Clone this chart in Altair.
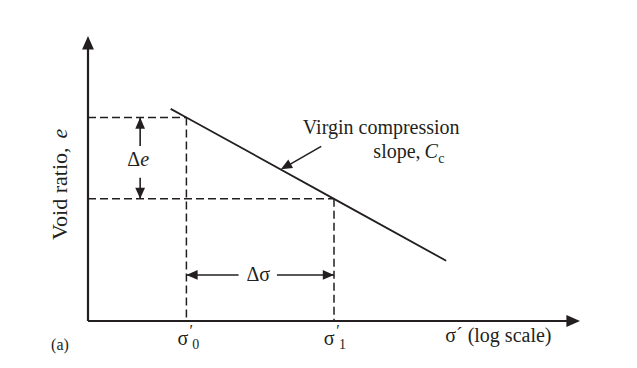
import altair as alt
import pandas as pd

# Schematic e - log(sigma') diagram.
# x: log of effective stress (arbitrary units), e: void ratio (arbitrary units)
X_MAX, E_MAX = 5.0, 7.0
SIG0, SIG1 = 1.0, 2.5          # sigma'_0, sigma'_1 on the log axis
E0, E1 = 5.0, 3.0              # void ratios at sigma'_0 and sigma'_1

# virgin compression line (end points)
line_x = [0.84, SIG0, SIG1, 3.64]
line_e = [5.21, E0, E1, 1.48]

INK = "#231f20"
FONT = "Liberation Serif"

# solid segments: axes, dimension shafts, leader
solid = pd.DataFrame({
    "x":  [0.0, 0.0, 0.53, 0.53, SIG0, 1.92, 2.37],
    "x2": [X_MAX - 0.05, 0.0, 0.53, 0.53, 1.53, SIG1, 1.99],
    "e":  [0.0, 0.0, E0, 3.52, 1.13, 1.13, 4.29],
    "e2": [0.0, E_MAX - 0.1, 4.30, E1, 1.13, 1.13, 3.76],
    "w":  [2.2, 2.2, 1.6, 1.6, 1.6, 1.6, 1.6],
})

# dashed guide lines
dashed = pd.DataFrame({
    "x":  [0.0, 0.0, SIG0, SIG1],
    "x2": [SIG0, SIG1, SIG0, SIG1],
    "e":  [E0, E1, E0, E1],
    "e2": [E0, E1, 0.0, 0.0],
})

# arrow heads: tip position and direction (0 = up, clockwise in degrees)
heads = pd.DataFrame({
    "x":   [0.0, X_MAX, 0.53, 0.53, SIG0, SIG1, 1.96],
    "e":   [E_MAX, 0.0, E0, E1, 1.13, 1.13, 3.73],
    "rot": [0, 90, 0, 180, 270, 90, 241],
    "size": [560, 560, 380, 380, 380, 380, 380],
})
ARROW = "M0,0L-0.5,1.15L0.5,1.15Z"

# upright labels
center_lbl = pd.DataFrame({
    "x": [2.98, 1.73, 0.965, 2.45],
    "e": [4.74, 1.13, -0.44, -0.44],
    "text": ["Virgin compression", "Δσ", "σ", "σ"],
})
left_lbl = pd.DataFrame({"x": [3.63], "e": [-0.37], "text": ["σ´ (log scale)"]})
right_lbl = pd.DataFrame({"x": [3.38, 0.53], "e": [4.15, 3.95], "text": ["slope,", "Δ"]})
italic = pd.DataFrame({"x": [3.42, 0.53], "e": [4.15, 3.95], "text": ["C", "e"]})
subs = pd.DataFrame({"x": [3.56, 1.06, 2.55], "e": [3.98, -0.60, -0.60],
                     "text": ["c", "0", "1"]})
primes = pd.DataFrame({"x": [1.05, 2.54], "e": [-0.25, -0.25], "text": ["′", "′"]})
tag = pd.DataFrame({"x": [-0.285], "e": [-0.59], "text": ["(a)"]})
ylab = pd.DataFrame({"x": [-0.285], "e": [1.99], "text": ["Void ratio,"]})
ylab_it = pd.DataFrame({"x": [-0.285], "e": [4.48], "text": ["e"]})

xs = alt.Scale(domain=[0, X_MAX], nice=False, zero=False)
ys = alt.Scale(domain=[0, E_MAX], nice=False, zero=False)


def X(f="x"):
    return alt.X(f"{f}:Q", scale=xs, axis=None)


def Y(f="e"):
    return alt.Y(f"{f}:Q", scale=ys, axis=None)


solid_layer = alt.Chart(solid).mark_rule(color=INK).encode(
    x=X(), x2="x2:Q", y=Y(), y2="e2:Q",
    strokeWidth=alt.StrokeWidth("w:Q", scale=None),
)
dashed_layer = alt.Chart(dashed).mark_rule(
    color=INK, strokeWidth=1.5, strokeDash=[8, 4]
).encode(x=X(), x2="x2:Q", y=Y(), y2="e2:Q")

vc_line = alt.Chart(pd.DataFrame({"x": line_x, "e": line_e})).mark_line(
    color=INK, strokeWidth=1.8
).encode(x=X(), y=Y())

head_layer = alt.Chart(heads).mark_point(
    shape=ARROW, filled=True, color=INK, opacity=1, strokeWidth=0
).encode(
    x=X(), y=Y(),
    angle=alt.Angle("rot:Q", scale=None),
    size=alt.Size("size:Q", scale=None),
)


def text_layer(df, size=20, style="normal", align="center", angle=0, baseline="middle"):
    return alt.Chart(df).mark_text(
        font=FONT, fontSize=size, fontStyle=style, color=INK,
        align=align, baseline=baseline, angle=angle,
    ).encode(x=X(), y=Y(), text="text:N")


layers = [
    dashed_layer, solid_layer, vc_line, head_layer,
    text_layer(center_lbl, align="center"),
    text_layer(left_lbl, align="left"),
    text_layer(right_lbl, align="right"),
    text_layer(italic, style="italic", align="left"),
    text_layer(subs, size=14, align="left"),
    text_layer(primes, size=16, align="center"),
    text_layer(tag, size=16),
    text_layer(ylab, size=22, align="left", angle=270),
    text_layer(ylab_it, size=22, style="italic", align="left", angle=270),
]

chart = alt.layer(*layers).properties(
    width=492, height=285,
    padding={"left": 88, "top": 36, "right": 57, "bottom": 47},
    autosize="none",
    background="white",
).configure_view(stroke=None)

chart.save("out.html", embed_options={"renderer": "svg", "actions": False})
